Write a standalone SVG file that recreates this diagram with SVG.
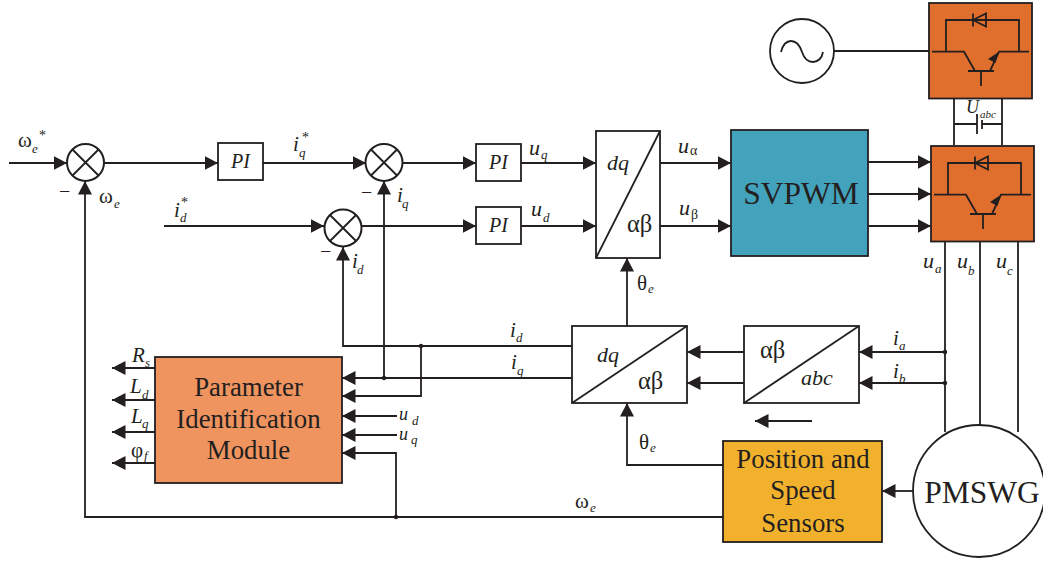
<svg xmlns="http://www.w3.org/2000/svg" width="1043" height="564" viewBox="0 0 1043 564">
<style>
text{font-family:"Liberation Serif","Times New Roman",serif;fill:#231f20}
.i{font-style:italic}
.v{font-size:21px}
.u{font-size:22px;font-style:italic}
.s{font-size:13px;font-style:italic}
.g{font-size:14px}
.st{font-size:14px}
.m{font-size:20px}
.b{font-size:26.800px;text-anchor:middle}
.t{font-size:22px}
.ab{font-size:24.500px}
.l{fill:none;stroke:#231f20;stroke-width:1.800}
.a{fill:none;stroke:#231f20;stroke-width:1.800;marker-end:url(#ah)}
.box{fill:#fff;stroke:#231f20;stroke-width:1.800}
.sum{fill:#fff;stroke:#231f20;stroke-width:2}
.dot{fill:#231f20}
.igbt{fill:#e06f2e;stroke:#231f20;stroke-width:1.800}
</style>
<defs>
<marker id="ah" markerUnits="userSpaceOnUse" markerWidth="15" markerHeight="15" refX="13.500" refY="7.500" orient="auto"><path d="M0 0.500L13.500 7.500L0 14.500Z" fill="#231f20"/></marker>
<g id="sw">
<rect class="igbt" x="0" y="0" width="103" height="95.500"/>
<path class="l" d="M17 48.700V17H90V48.700M3 48.700H35L46 68M39 68H65M52 68V83M100 48.700H70L61 68"/>
<path d="M44 17L57 10.500V23.500Z" fill="none" stroke="#231f20" stroke-width="1.800"/>
<path class="l" d="M44 10.500V23.500"/>
<path d="M70 48.700L59 56L66.500 60Z" fill="#231f20"/>
</g>
<g id="x"><circle class="sum" r="18.500"/><path class="l" d="M-13 -13L13 13M13 -13L-13 13"/></g>
</defs>

<g id="connectors">
<path class="l" d="M834 51H929M954 98V145M1002 98V145M954 124H977M982 124H1002"/>
<path class="l" d="M977 114V134M982 120V129" />
<path class="a" d="M868 162H931"/><path class="a" d="M868 194H931"/><path class="a" d="M868 226H931"/>
<path class="a" d="M9 163H67"/><path class="a" d="M104 163H218"/><path class="a" d="M263 163H366"/>
<path class="a" d="M402 163H476"/><path class="a" d="M164 226H324"/><path class="a" d="M362 226H476"/>
<path class="a" d="M521 163H596"/><path class="a" d="M521 226H596"/>
<path class="a" d="M660 163H731"/><path class="a" d="M660 226H731"/>
<path class="a" d="M723 517H85V181"/>
<path class="a" d="M384 378V181"/>
<path class="a" d="M572 346H343V247"/>
<path class="a" d="M572 378H342"/>
<path class="a" d="M421 346V396H342"/>
<path class="a" d="M397 416H342"/><path class="a" d="M397 435H342"/>
<path class="a" d="M396 517V453H342"/>
<path class="a" d="M155 368H112"/><path class="a" d="M155 400H112"/><path class="a" d="M155 432H112"/><path class="a" d="M155 463H112"/>
<path class="a" d="M627 326V258"/>
<path class="a" d="M723 465H627V403"/>
<path class="a" d="M744 352H687"/><path class="a" d="M744 383H687"/>
<path class="a" d="M945 352H859"/><path class="a" d="M945 383H859"/>
<path class="a" d="M812 421H755"/>
<path class="a" d="M913 491H882"/>
<path class="l" d="M945 241V432M980 241V426M1018 241V432"/>
<circle class="dot" cx="384" cy="378" r="2.200"/><circle class="dot" cx="421" cy="346" r="2.200"/><circle class="dot" cx="396" cy="517" r="2.200"/><circle class="dot" cx="945" cy="352" r="2.200"/><circle class="dot" cx="945" cy="383" r="2.200"/>
</g>

<g id="source"><circle cx="802" cy="51" r="32" fill="#fff" stroke="#231f20" stroke-width="1.800"/><path class="l" d="M781 52C783 44 787 41 791 41C797 41 800 46 802 52C804 58 807 62 813 62C818 62 822 58 823 52"/></g>
<g id="inverter-top"><use href="#sw" x="929" y="3"/></g>
<g id="inverter-bottom"><use href="#sw" x="931" y="146"/></g>
<g id="svpwm"><rect x="731" y="130" width="137" height="126" fill="#43a3bc" stroke="#231f20" stroke-width="1.800"/><text x="801" y="204" font-size="31.500" text-anchor="middle">SVPWM</text></g>
<g id="sum1"><use href="#x" x="85.500" y="162.500"/></g>
<g id="sum2"><use href="#x" x="384" y="162.500"/></g>
<g id="sum3"><use href="#x" x="343" y="228"/></g>
<g id="pi1"><rect class="box" x="218" y="143" width="45" height="37"/><text class="i" x="240.500" y="168" font-size="20" text-anchor="middle">PI</text></g>
<g id="pi2"><rect class="box" x="476" y="144" width="45" height="37"/><text class="i" x="498.500" y="169" font-size="20" text-anchor="middle">PI</text></g>
<g id="pi3"><rect class="box" x="476" y="207" width="45" height="37"/><text class="i" x="498.500" y="232" font-size="20" text-anchor="middle">PI</text></g>
<g id="dq-ab1"><rect class="box" x="596" y="131" width="64" height="127"/><path class="l" d="M596 258L660 131"/><text class="i t" x="607" y="170">dq</text><text class="ab" x="627" y="232">αβ</text></g>
<g id="dq-ab2"><rect class="box" x="572" y="326" width="115" height="77"/><path class="l" d="M572 403L687 326"/><text class="i t" x="597" y="362">dq</text><text class="ab" x="638" y="389">αβ</text></g>
<g id="ab-abc"><rect class="box" x="744" y="326" width="115" height="77"/><path class="l" d="M744 403L859 326"/><text class="ab" x="760" y="358">αβ</text><text class="i t" x="801" y="385">abc</text></g>
<g id="pim"><rect x="155" y="357" width="187" height="126" fill="#ef935f" stroke="#231f20" stroke-width="1.800"/><text class="b" x="248.500" y="396">Parameter</text><text class="b" x="248.500" y="428">Identification</text><text class="b" x="248.500" y="459">Module</text></g>
<g id="sensors"><rect x="723" y="441" width="159" height="101" fill="#f1b12d" stroke="#231f20" stroke-width="1.800"/><text class="b" x="803" y="468">Position and</text><text class="b" x="803" y="499">Speed</text><text class="b" x="803" y="532">Sensors</text></g>
<g id="pmswg"><circle cx="979" cy="491" r="66" fill="#fff" stroke="#231f20" stroke-width="1.800"/><text x="982" y="503" font-size="31.500" text-anchor="middle">PMSWG</text></g>

<g id="labels">
<text class="v" x="18" y="147">ω</text><text class="s" x="32" y="153">e</text><text class="st" x="39" y="140">*</text>
<text class="v i" x="293" y="151">i</text><text class="s" x="299" y="157">q</text><text class="st" x="302" y="142">*</text>
<text class="v i" x="174" y="217">i</text><text class="s" x="180" y="222">d</text><text class="st" x="181" y="207">*</text>
<text class="v" x="99" y="203">ω</text><text class="s" x="114" y="208">e</text>
<text class="m" x="59" y="198">−</text><text class="m" x="361" y="199">−</text><text class="m" x="320" y="258">−</text>
<text class="v i" x="397" y="202">i</text><text class="s" x="402" y="208">q</text>
<text class="v i" x="352" y="268">i</text><text class="s" x="357" y="274">d</text>
<text class="u" x="529" y="155">u</text><text class="s" x="541" y="159">q</text>
<text class="u" x="531" y="216">u</text><text class="s" x="543" y="222">d</text>
<text class="u" x="678" y="153">u</text><text class="g" x="690" y="155">α</text>
<text class="u" x="679" y="215">u</text><text class="g" x="691" y="219">β</text>
<text class="i" x="966" y="113" font-size="18">U</text><text class="i" x="980" y="118" font-size="11">abc</text>
<text class="u" x="923" y="268">u</text><text class="s" x="935" y="273">a</text>
<text class="u" x="957" y="268">u</text><text class="s" x="968" y="275">b</text>
<text class="u" x="996" y="268">u</text><text class="s" x="1007" y="275">c</text>
<text class="v" x="637" y="290">θ</text><text class="s" x="648" y="293">e</text>
<text class="v" x="639" y="449">θ</text><text class="s" x="650" y="452">e</text>
<text class="v i" x="510" y="337">i</text><text class="s" x="516" y="342">d</text>
<text class="v i" x="511" y="369">i</text><text class="s" x="517" y="375">q</text>
<text class="v i" x="893" y="345">i</text><text class="s" x="899" y="350">a</text>
<text class="v i" x="893" y="378">i</text><text class="s" x="899" y="383">b</text>
<text class="v" x="575" y="508">ω</text><text class="s" x="590" y="512">e</text>
<text class="v i" x="132" y="362">R</text><text class="s" x="145" y="367">s</text>
<text class="v i" x="130" y="393">L</text><text class="s" x="142" y="399">d</text>
<text class="v i" x="131" y="423">L</text><text class="s" x="142" y="428">q</text>
<text class="v" x="131" y="457">φ</text><text class="s" x="144" y="460">f</text>
<text class="i" x="399" y="419.500" font-size="18">u</text><text class="s" x="412" y="425">d</text>
<text class="i" x="399" y="439.500" font-size="18">u</text><text class="s" x="411" y="444">q</text>
</g>
</svg>
